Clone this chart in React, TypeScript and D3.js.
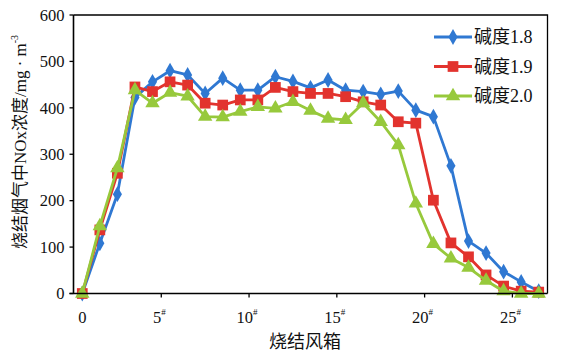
import React from "react";
import * as d3 from "d3";

const categories = d3.range(0, 27);
const series18 = [0, 108, 214, 422, 456, 480, 471, 431, 464, 438, 438, 467, 457, 443, 460, 438, 435, 429, 436, 395, 381, 275, 113, 87, 47, 25, 5];
const series19 = [0, 137, 259, 445, 435, 456, 449, 410, 406, 417, 417, 444, 435, 431, 431, 424, 413, 406, 370, 367, 201, 109, 79, 40, 16, 5, 3];
const series20 = [0, 145, 270, 438, 410, 433, 425, 381, 380, 392, 402, 399, 413, 394, 377, 374, 410, 370, 320, 194, 107, 76, 56, 28, 5, 0, 0];
const seriesNames = ["碱度1.8", "碱度1.9", "碱度2.0"];
const yTicks = [0, 100, 200, 300, 400, 500, 600];
const xTickLabels = ["5", "10", "15", "20", "25"];
const xTickPos = [4.5, 9.5, 14.5, 19.5, 24.5];

const colors = ["#2f78d2", "#e2332e", "#97c93c"];
const symbols = [d3.symbolDiamond, d3.symbolSquare, d3.symbolTriangle];
const symSizes = [72, 115, 90];

export default function App() {
  const W = 575, H = 355;
  const left = 73.5, right = 547.5, top = 15, bottom = 293.5;
  const x = d3.scaleLinear().domain([-0.5, 26.5]).range([left, right]);
  const y = d3.scaleLinear().domain([0, 600]).range([bottom, top]);
  const allSeries = [series18, series19, series20];
  const line = d3.line<number>().x((_, i) => x(categories[i])).y((d) => y(d));
  const serif = "'Liberation Serif', 'Times New Roman', 'Noto Sans CJK SC', serif";

  return (
    <svg width={W} height={H} style={{ position: "absolute", left: 0, top: 0, background: "#fff" }} fontFamily={serif}>
      <rect x={0} y={0} width={W} height={H} fill="#fff" />
      <path d={`M${left},${top}H${right}V${bottom}`} fill="none" stroke="#000" strokeWidth={1.3} />
      {allSeries.map((s, k) => (
        <g key={k}>
          <path d={line(s) || ""} fill="none" stroke={colors[k]} strokeWidth={2.8} strokeLinejoin="round" />
          {s.map((v, i) => (
            <path
              key={i}
              d={d3.symbol().type(symbols[k]).size(symSizes[k])() || ""}
              transform={`translate(${x(categories[i])},${y(v)})`}
              fill={colors[k]}
            />
          ))}
        </g>
      ))}
      <line x1={left} y1={top} x2={left} y2={bottom} stroke="#000" strokeWidth={1.6} />
      <line x1={left - 4} y1={bottom} x2={right} y2={bottom} stroke="#000" strokeWidth={1.6} />
      {yTicks.map((t) => (
        <g key={t}>
          <line x1={left - 4} x2={left} y1={y(t)} y2={y(t)} stroke="#000" strokeWidth={1.3} />
          <text x={left - 9} y={y(t)} dy="0.35em" textAnchor="end" fontSize={16.5} fill="#111">{t}</text>
        </g>
      ))}
      <text x={x(0)} y={323} textAnchor="middle" fontSize={16.5} fill="#111">0</text>
      {xTickPos.map((p, i) => (
        <g key={p}>
          <line x1={x(p)} x2={x(p)} y1={bottom} y2={bottom + 4} stroke="#000" strokeWidth={1.3} />
          <text x={x(p) - 2} y={323} textAnchor="middle" fontSize={16.5} fill="#111">
            {xTickLabels[i]}
            <tspan fontSize={9} dy={-8}>#</tspan>
          </text>
        </g>
      ))}
      <text x={305} y={348} textAnchor="middle" fontSize={18} fill="#111">烧结风箱</text>
      <text transform={`translate(26,142) rotate(-90)`} textAnchor="middle" fontSize={17} fill="#111">
        烧结烟气中NOx浓度/mg · m<tspan fontSize={10} dy={-8}>-3</tspan>
      </text>
      {seriesNames.map((n, k) => {
        const ly = 37 + k * 29.5;
        return (
          <g key={n}>
            <line x1={434} x2={472} y1={ly} y2={ly} stroke={colors[k]} strokeWidth={2.8} />
            <path d={d3.symbol().type(symbols[k]).size(symSizes[k])() || ""} transform={`translate(453,${ly})`} fill={colors[k]} />
            <text x={474} y={ly} dy="0.36em" fontSize={18} fill="#111">{n}</text>
          </g>
        );
      })}
    </svg>
  );
}
